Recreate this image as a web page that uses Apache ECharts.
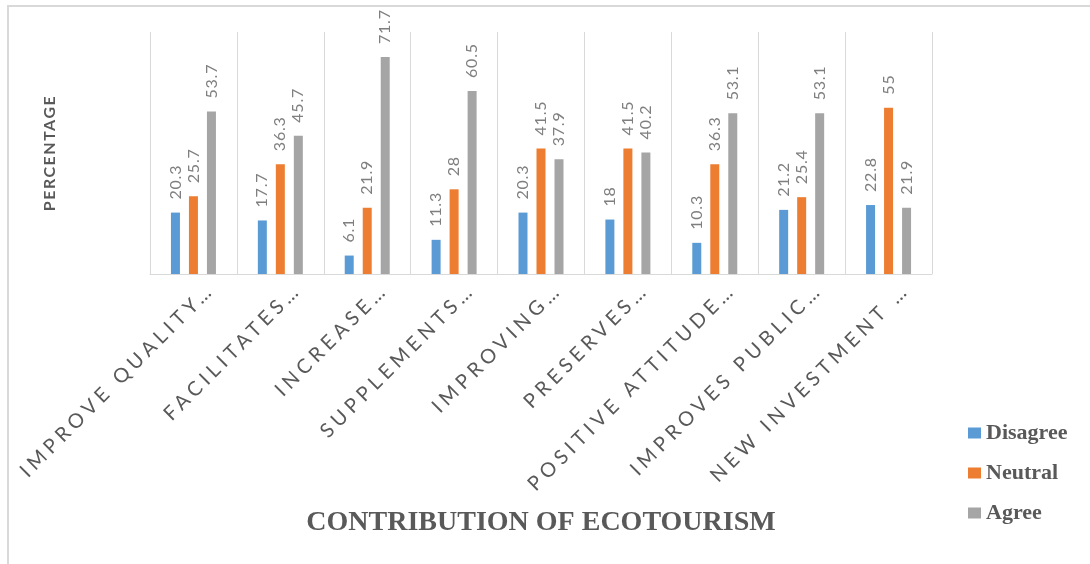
<!DOCTYPE html>
<html>
<head>
<meta charset="utf-8">
<title>Contribution of Ecotourism</title>
<script src="https://cdn.jsdelivr.net/npm/echarts@6/dist/echarts.min.js"></script>
<style>
  html, body { margin: 0; padding: 0; background: #ffffff; }
  #chart { width: 1090px; height: 564px; }
</style>
</head>
<body>
<div id="chart"></div>
<script>
// Survey answers, in percent, per statement about ecotourism
const categories = [
  'IMPROVE QUALITY…', 'FACILITATES…', 'INCREASE…', 'SUPPLEMENTS…', 'IMPROVING…',
  'PRESERVES…', 'POSITIVE ATTITUDE…', 'IMPROVES PUBLIC…', 'NEW INVESTMENT …'
];
const disagree = [20.3, 17.7, 6.1, 11.3, 20.3, 18, 10.3, 21.2, 22.8];
const neutral  = [25.7, 36.3, 21.9, 28, 41.5, 41.5, 36.3, 25.4, 55];
const agree    = [53.7, 45.7, 71.7, 60.5, 37.9, 40.2, 53.1, 53.1, 21.9];

// Expanded character tracking for the sans-serif labels (canvas letterSpacing)
const TRACKING = [
  { test: /(bold|700)[^,]*Lato/, px: 1.5 },
  { test: /20px Lato/, px: 4.6 },
  { test: /16px Lato/, px: 0.8 }
];
const proto = CanvasRenderingContext2D.prototype;
const baseFillText = proto.fillText;
proto.fillText = function (text, x, y, maxWidth) {
  let ls = '0px';
  const f = this.font;
  for (const t of TRACKING) { if (t.test.test(f)) { ls = t.px + 'px'; break; } }
  if ('letterSpacing' in this) this.letterSpacing = ls;
  return maxWidth === undefined
    ? baseFillText.call(this, text, x, y)
    : baseFillText.call(this, text, x, y, maxWidth);
};

const COLORS = ['#5b9bd5', '#ed7d31', '#a5a5a5'];

function barSeries(name, data, color) {
  return {
    name: name,
    type: 'bar',
    data: data,
    barWidth: 9,
    barGap: '100%',
    itemStyle: { color: color },
    label: {
      show: true,
      position: 'top',
      rotate: 90,
      align: 'left',
      verticalAlign: 'middle',
      distance: 13,
      color: '#7f7f7f',
      fontFamily: 'Lato',
      fontSize: 16
    }
  };
}

const chart = echarts.init(document.getElementById('chart'), null, { renderer: 'canvas' });
chart.setOption({
  animation: false,
  backgroundColor: '#ffffff',
  grid: { left: 150, right: 158, top: 32, bottom: 290 },
  xAxis: {
    type: 'category',
    data: categories,
    name: 'CONTRIBUTION OF ECOTOURISM',
    nameLocation: 'middle',
    nameGap: 235,
    nameTextStyle: {
      fontFamily: 'Liberation Serif',
      fontWeight: 'bold',
      fontSize: 28,
      color: '#595959'
    },
    axisLine: { show: true, lineStyle: { color: '#d9d9d9', width: 1 } },
    axisTick: { show: false },
    splitLine: { show: true, lineStyle: { color: '#d9d9d9', width: 1 } },
    axisLabel: {
      interval: 0,
      rotate: 45,
      margin: 30,
      padding: [0, -25, 0, 0],
      color: '#595959',
      fontFamily: 'Lato',
      fontSize: 20
    }
  },
  yAxis: {
    type: 'value',
    min: 0,
    max: 80,
    interval: 10,
    name: 'PERCENTAGE',
    nameLocation: 'middle',
    nameGap: 92,
    nameRotate: 90,
    nameTextStyle: {
      fontFamily: 'Lato',
      fontWeight: 'bold',
      fontSize: 16,
      color: '#595959'
    },
    axisLine: { show: false },
    axisTick: { show: false },
    axisLabel: { show: false },
    splitLine: { show: false }
  },
  legend: {
    orient: 'vertical',
    left: 963,
    top: 417,
    itemWidth: 13,
    itemHeight: 11,
    itemGap: 18,
    icon: 'rect',
    textStyle: {
      fontFamily: 'Liberation Serif',
      fontWeight: 'bold',
      fontSize: 22,
      color: '#595959'
    },
    data: ['Disagree', 'Neutral', 'Agree']
  },
  graphic: [{
    type: 'rect',
    silent: true,
    z: -1,
    shape: { x: 8, y: 6, width: 1200, height: 700 },
    style: { fill: 'none', stroke: '#d9d9d9', lineWidth: 2 }
  }],
  series: [
    barSeries('Disagree', disagree, COLORS[0]),
    barSeries('Neutral', neutral, COLORS[1]),
    barSeries('Agree', agree, COLORS[2])
  ]
});
</script>
</body>
</html>
